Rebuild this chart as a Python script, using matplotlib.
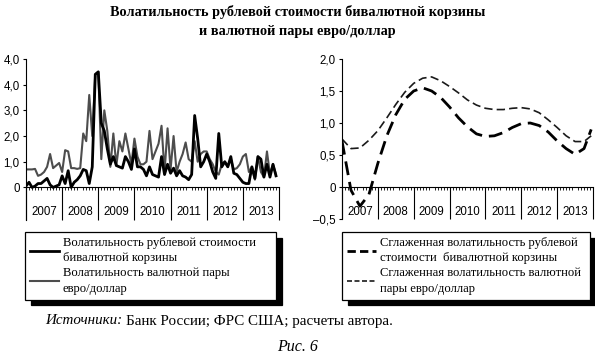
import numpy as np
import matplotlib
matplotlib.use('Agg')
import matplotlib.pyplot as plt
from matplotlib.lines import Line2D

plt.rcParams['font.family'] = ['Liberation Serif', 'DejaVu Serif']

# monthly volatility, Jan 2007 .. Dec 2013
basket = [0.05, 0.2, 0.0, 0.05, 0.15, 0.15, 0.25, 0.35, 0.1, 0.0, 0.05, 0.1,
          0.45, 0.15, 0.65, 0.0, 0.2, 0.3, 0.45, 0.7, 0.65, 0.15, 0.8, 4.4,
          4.5, 2.5, 2.2, 1.5, 0.9, 1.2, 0.85, 0.8, 0.75, 1.2, 1.0, 0.7,
          1.5, 0.8, 0.8, 0.7, 0.45, 0.8, 0.5, 0.45, 0.4, 1.2, 0.5, 0.9,
          0.55, 0.75, 0.45, 0.65, 0.45, 0.4, 0.3, 0.5, 2.8, 1.9, 0.8, 1.0,
          1.3, 1.0, 0.6, 0.35, 2.1, 0.8, 1.0, 0.8, 1.2, 0.55, 0.5, 0.35,
          0.2, 0.15, 0.15, 0.8, 0.35, 1.2, 1.1, 0.4, 0.9, 0.4, 0.9, 0.45]
eurusd = [0.7, 0.7, 0.7, 0.72, 0.45, 0.5, 0.6, 0.8, 1.3, 0.75, 0.85, 0.95,
          0.6, 1.45, 1.4, 0.75, 0.75, 0.72, 0.75, 2.1, 1.8, 3.6, 2.0, 4.4,
          4.5, 1.1, 3.0, 2.2, 0.8, 2.1, 0.85, 1.8, 1.4, 2.1, 1.5, 0.9,
          1.9, 1.2, 0.9, 0.9, 1.0, 2.2, 1.1, 1.4, 1.7, 2.4, 0.6, 2.3,
          0.7, 2.0, 0.6, 1.0, 1.3, 1.75, 1.1, 1.0, 1.8, 1.0, 1.3, 1.4,
          1.4, 1.1, 0.9, 0.6, 0.5, 0.9, 1.0, 0.8, 1.1, 0.7, 0.75, 0.9,
          1.2, 1.3, 0.6, 0.8, 0.3, 1.2, 0.6, 0.4, 1.4, 0.5, 0.9, 0.5]

# smoothed series, quarterly points (years since start of 2007)
smooth_t = [0.0, 0.25, 0.5, 0.75, 1.0, 1.25, 1.5, 1.75, 2.0, 2.25, 2.5, 2.75,
            3.0, 3.25, 3.5, 3.75, 4.0, 4.25, 4.5, 4.75, 5.0, 5.25, 5.5, 5.75,
            6.0, 6.25, 6.5, 6.75, 6.95]
smooth_basket = [0.72, -0.05, -0.3, -0.12, 0.37, 0.8, 1.13, 1.37, 1.5, 1.55, 1.5, 1.4,
                 1.25, 1.08, 0.94, 0.83, 0.79, 0.8, 0.85, 0.93, 0.99, 1.0, 0.96, 0.86,
                 0.72, 0.6, 0.51, 0.6, 0.9]
smooth_eurusd = [0.75, 0.6, 0.61, 0.73, 0.88, 1.08, 1.29, 1.48, 1.62, 1.7, 1.72, 1.66,
                 1.57, 1.47, 1.36, 1.28, 1.23, 1.21, 1.21, 1.23, 1.24, 1.22, 1.16, 1.05,
                 0.93, 0.8, 0.71, 0.71, 0.8]

years = list(range(2007, 2014))
left_ticks = [0, 1, 2, 3, 4, 5]
left_ticklabels = ['0', '1,0', '2,0', '3,0', '4,0', '4,0']
right_ticks = [-0.5, 0, 0.5, 1.0, 1.5, 2.0]
right_ticklabels = ['\u20130,5', '0', '0,5', '1,0', '1,5', '2,0']

fig = plt.figure(figsize=(5.95, 3.57), dpi=100)
axL = fig.add_axes([26/595, 1-220/357, 253/595, 161/357])
axR = fig.add_axes([342/595, 1-219/357, 251/595, 160/357])

months = 2007 + np.arange(len(basket)) / 12.0
axL.plot(months, eurusd, color='0.3', lw=1.5)
axL.plot(months, basket, color='black', lw=2.0)

ts = 2007 + np.array(smooth_t)
axR.plot(ts, smooth_eurusd, color='0.1', lw=1.2, dashes=(5, 2.5))
axR.plot(ts, smooth_basket, color='black', lw=2.0, dashes=(5, 2.5))


def style_axis(ax, ymin, ymax, ticks, labels):
    ax.set_xlim(2007, 2014)
    ax.set_ylim(ymin, ymax)
    for s in ['top', 'right']:
        ax.spines[s].set_visible(False)
    ax.spines['bottom'].set_position(('data', 0))
    ax.spines['left'].set_linewidth(0.8)
    ax.spines['bottom'].set_linewidth(0.8)
    ax.set_yticks(ticks)
    ax.set_yticklabels(labels, family='Liberation Sans', fontsize=8.3)
    ax.tick_params(axis='y', length=2.5, width=0.8, pad=2)
    ax.set_xticks([y + 0.5 for y in years])
    ax.set_xticklabels([str(y) for y in years], family='Liberation Sans', fontsize=8.3)
    ax.set_xticks(2007 + np.arange(85) / 12.0, minor=True)
    ax.tick_params(axis='x', which='major', length=0, pad=13.5)
    ax.tick_params(axis='x', which='minor', length=2.5, width=0.6, direction='out')
    ax.vlines(years + [2014], ymin, 0, color='black', lw=0.8, clip_on=False)
    ax.patch.set_visible(False)


style_axis(axL, -1.27, 5.0, left_ticks, left_ticklabels)
style_axis(axR, -0.5, 2.0, right_ticks, right_ticklabels)

fig.text(0.5, 1-12/357, 'Волатильность рублевой стоимости бивалютной корзины',
         ha='center', va='center', fontsize=10.3, weight='bold')
fig.text(0.5, 1-31/357, 'и валютной пары евро/доллар',
         ha='center', va='center', fontsize=10.3, weight='bold')

shadow = {'ox': 4, 'oy': -4, 'shade': 1.0, 'alpha': 1}
leg_kw = dict(loc='upper left', mode='expand', fancybox=False, shadow=shadow,
              fontsize=9.1, handlelength=2.3, handletextpad=0.3, labelspacing=0.25,
              borderpad=0.4, borderaxespad=0, edgecolor='black', framealpha=1)
hL = [Line2D([], [], color='black', lw=2.0), Line2D([], [], color='0.3', lw=1.5)]
legL = fig.legend(hL, ['Волатильность рублевой стоимости\nбивалютной корзины',
                       'Волатильность валютной пары\nевро/доллар'],
                  bbox_to_anchor=(25/595, 1-232/357-0.01, 251/595, 0.01), **leg_kw)
hR = [Line2D([], [], color='black', lw=2.0, dashes=(3, 1.5)),
      Line2D([], [], color='0.1', lw=1.2, dashes=(3, 1.5))]
legR = fig.legend(hR, ['Сглаженная волатильность рублевой\nстоимости  бивалютной корзины',
                       'Сглаженная волатильность валютной\nпары евро/доллар'],
                  bbox_to_anchor=(342/595, 1-232/357-0.01, 248/595, 0.01), **leg_kw)
for leg in (legL, legR):
    leg.get_frame().set_linewidth(0.9)
    for t in leg.get_texts():
        t.set_linespacing(1.35)

# source line: italic lead-in, then regular text
renderer = fig.canvas.get_renderer()
t1 = fig.text(45/595, 1-321/357, 'Источники:', style='italic', fontsize=10.8, va='center')
w = t1.get_window_extent(renderer).width / fig.bbox.width
fig.text(45/595 + w + 0.007, 1-321/357, 'Банк России; ФРС США; расчеты автора.',
         fontsize=10.8, va='center')
fig.text(0.5, 1-347/357, 'Рис. 6', style='italic', fontsize=11.5, ha='center', va='center')

fig.savefig('out.png', dpi=100)
